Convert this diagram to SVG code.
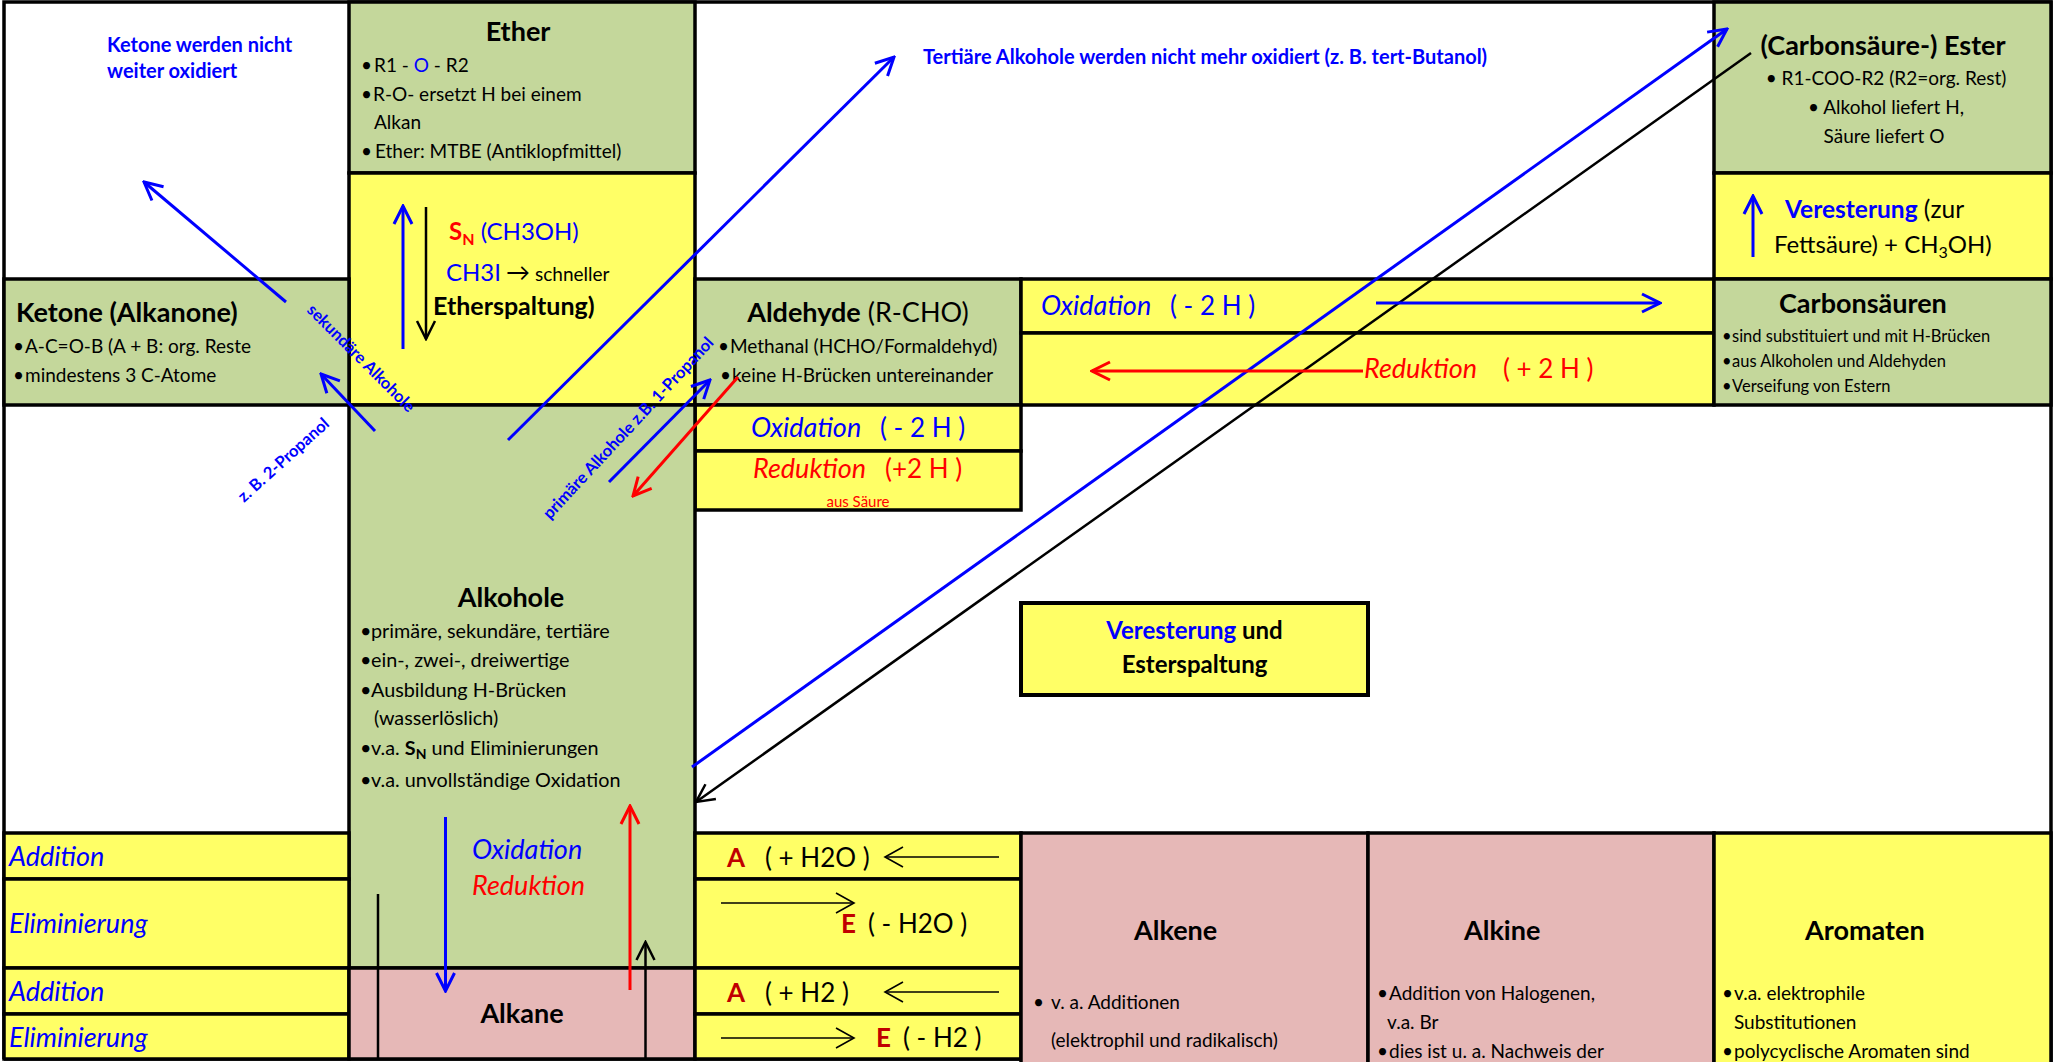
<svg xmlns="http://www.w3.org/2000/svg" width="2053" height="1062" viewBox="0 0 2053 1062">
<style>
text{font-family:Lato,'Liberation Sans',sans-serif;fill:#000}
.g{fill:#C4D79B;stroke:#000;stroke-width:3.5}
.y{fill:#FFFF66;stroke:#000;stroke-width:3.5}
.p{fill:#E6B8B7;stroke:#000;stroke-width:3.5}
.ti{font-size:27px;font-weight:bold}
.bu{font-size:19px}
.bu2{font-size:19.8px}
.sm{font-size:16.5px}
.it{font-size:27px;font-style:italic}
.up{font-size:26px}
.note{font-size:20px;font-weight:bold;fill:#0000FF}
.rot{font-size:16.5px;font-weight:bold;fill:#0000FF}
.blue{fill:#0000FF}
.red{fill:#FF0000}
.dred{fill:#C00000;font-weight:bold}
.ab{stroke:#0000FF;stroke-width:3;fill:none}
.ar{stroke:#FF0000;stroke-width:3;fill:none}
.ak{stroke:#000;stroke-width:2.5;fill:none}
.akt{stroke:#000;stroke-width:1.6;fill:none}
</style>
<defs>
<marker id="mb" markerUnits="userSpaceOnUse" viewBox="0 0 22 22" refX="20" refY="11" markerWidth="22" markerHeight="22" orient="auto"><path d="M2,2 L20,11 L2,20" fill="none" stroke="#0000FF" stroke-width="3"/></marker>
<marker id="mr" markerUnits="userSpaceOnUse" viewBox="0 0 22 22" refX="20" refY="11" markerWidth="22" markerHeight="22" orient="auto"><path d="M2,2 L20,11 L2,20" fill="none" stroke="#FF0000" stroke-width="3"/></marker>
<marker id="mk" markerUnits="userSpaceOnUse" viewBox="0 0 22 22" refX="20" refY="11" markerWidth="22" markerHeight="22" orient="auto"><path d="M2,2 L20,11 L2,20" fill="none" stroke="#000" stroke-width="2.5"/></marker>
<marker id="mkt" markerUnits="userSpaceOnUse" viewBox="0 0 22 22" refX="20" refY="11" markerWidth="22" markerHeight="22" orient="auto"><path d="M2,1 L20,11 L2,21" fill="none" stroke="#000" stroke-width="1.6"/></marker>
</defs>
<rect x="0" y="0" width="2053" height="1062" fill="#fff"/>

<g id="frame" fill="none" stroke="#000" stroke-width="3.5">
<path d="M4,1059 V2 H2051 V1062"/>
<line x1="4" y1="1059" x2="1021" y2="1059"/>
</g>

<g id="note-ketone">
<text class="note" x="107" y="52">Ketone werden nicht</text>
<text class="note" x="107" y="78">weiter oxidiert</text>
</g>
<g id="note-tertiaer">
<text class="note" x="923" y="64">Tertiäre Alkohole werden nicht mehr oxidiert (z. B. tert-Butanol)</text>
</g>

<g id="ether">
<rect class="g" x="349" y="2" width="346" height="171"/>
<text class="ti" x="518" y="41" text-anchor="middle">Ether</text>
<text class="bu" x="361" y="72">•</text><text class="bu" x="374" y="72">R1 - <tspan class="blue">O</tspan> - R2</text>
<text class="bu" x="361" y="101">•</text><text class="bu" x="373" y="101">R-O- ersetzt H bei einem</text>
<text class="bu" x="374" y="129">Alkan</text>
<text class="bu" x="361" y="158">•</text><text class="bu" x="375" y="158">Ether: MTBE (Antiklopfmittel)</text>
</g>
<g id="etherspaltung">
<rect class="y" x="349" y="173" width="346" height="232"/>
<text x="449" y="240" font-size="24px"><tspan class="red" font-weight="bold">S</tspan><tspan class="red" font-weight="bold" font-size="16px" dy="5">N</tspan><tspan class="blue" dy="-5"> (CH3OH)</tspan></text>
<text x="446" y="281" font-size="24px" class="blue">CH3I</text>
<text x="506" y="281" font-family="'DejaVu Sans',sans-serif" font-size="24px">→</text>
<text x="535" y="281" font-size="19px">schneller</text>
<text x="433" y="315" font-size="25px" font-weight="bold">Etherspaltung)</text>
</g>

<g id="ketone">
<rect class="g" x="4" y="279" width="345" height="126"/>
<text class="ti" x="16" y="322" font-size="28px">Ketone (Alkanone)</text>
<text class="bu" x="13" y="353">•</text><text class="bu" x="25" y="353">A-C=O-B (A + B: org. Reste</text>
<text class="bu" x="13" y="382">•</text><text class="bu" x="25" y="382">mindestens 3 C-Atome</text>
</g>

<g id="aldehyde">
<rect class="g" x="695" y="279" width="326" height="126"/>
<text class="ti" x="858" y="322" text-anchor="middle" font-size="26px">Aldehyde<tspan font-weight="normal"> (R-CHO)</tspan></text>
<text class="bu" x="718" y="353">•</text><text class="bu" x="730" y="353">Methanal (HCHO/Formaldehyd)</text>
<text class="bu" x="720" y="382">•</text><text class="bu" x="732" y="382">keine H-Brücken untereinander</text>
</g>

<g id="oxidation-row">
<rect class="y" x="1021" y="279" width="693" height="54"/>
<text class="it blue" x="1041" y="315">Oxidation</text><text class="up blue" x="1170" y="315">( - 2 H )</text>
</g>
<g id="reduktion-row">
<rect class="y" x="1021" y="333" width="693" height="72"/>
<text class="it red" x="1364" y="378">Reduktion</text><text class="up red" x="1503" y="378">( + 2 H )</text>
</g>

<g id="ester">
<rect class="g" x="1714" y="2" width="337" height="171"/>
<text class="ti" x="1883" y="55" text-anchor="middle" font-size="28px">(Carbonsäure-) Ester</text>
<text class="bu" x="1886" y="85" text-anchor="middle">• R1-COO-R2 (R2=org. Rest)</text>
<text class="bu" x="1886" y="114" text-anchor="middle">• Alkohol liefert H,</text>
<text class="bu" x="1884" y="143" text-anchor="middle">Säure liefert O</text>
</g>
<g id="veresterung">
<rect class="y" x="1714" y="173" width="337" height="106"/>
<text x="1785" y="218" font-size="24.5px"><tspan class="blue" font-weight="bold">Veresterung</tspan> (zur</text>
<text x="1774" y="253" font-size="24px">Fettsäure) + CH<tspan font-size="16px" dy="5">3</tspan><tspan dy="-5">OH)</tspan></text>
</g>
<g id="carbonsaeuren">
<rect class="g" x="1714" y="279" width="337" height="126"/>
<text class="ti" x="1779" y="313">Carbonsäuren</text>
<text class="sm" x="1722" y="342">•</text><text class="sm" x="1732" y="342">sind substituiert und mit H-Brücken</text>
<text class="sm" x="1722" y="367">•</text><text class="sm" x="1732" y="367">aus Alkoholen und Aldehyden</text>
<text class="sm" x="1722" y="392">•</text><text class="sm" x="1732" y="392">Verseifung von Estern</text>
</g>

<g id="ald-oxidation">
<rect class="y" x="695" y="405" width="326" height="46"/>
<text class="it blue" x="751" y="437">Oxidation</text><text class="up blue" x="880" y="437">( - 2 H )</text>
</g>
<g id="ald-reduktion">
<rect class="y" x="695" y="451" width="326" height="59"/>
<text class="it red" x="753" y="478">Reduktion</text><text class="up red" x="885" y="478">(+2 H )</text>
<text class="red" x="858" y="507" font-size="15px" text-anchor="middle">aus Säure</text>
</g>

<g id="alkohole">
<rect class="g" x="349" y="405" width="346" height="563"/>
<text class="ti" x="511" y="607" text-anchor="middle">Alkohole</text>
<text class="bu2" x="360" y="638">•</text><text class="bu2" x="371" y="638">primäre, sekundäre, tertiäre</text>
<text class="bu2" x="360" y="667">•</text><text class="bu2" x="371" y="667">ein-, zwei-, dreiwertige</text>
<text class="bu2" x="360" y="697">•</text><text class="bu2" x="371" y="697">Ausbildung H-Brücken</text>
<text class="bu2" x="374" y="725">(wasserlöslich)</text>
<text class="bu2" x="360" y="755">•</text><text class="bu2" x="371" y="755">v.a. <tspan font-weight="bold">S</tspan><tspan font-weight="bold" font-size="14px" dy="4">N</tspan><tspan dy="-4"> und Eliminierungen</tspan></text>
<text class="bu2" x="360" y="787">•</text><text class="bu2" x="371" y="787">v.a. unvollständige Oxidation</text>
<text class="it blue" x="472" y="859">Oxidation</text>
<text class="it red" x="472" y="895">Reduktion</text>
</g>

<g id="verest-box">
<rect x="1021" y="603" width="347" height="92" fill="#FFFF66" stroke="#000" stroke-width="4"/>
<text x="1194.5" y="639" font-size="24px" font-weight="bold" text-anchor="middle"><tspan class="blue">Veresterung</tspan> und</text>
<text x="1194.5" y="673" font-size="24px" font-weight="bold" text-anchor="middle">Esterspaltung</text>
</g>

<g id="left-add1"><rect class="y" x="4" y="833" width="345" height="46"/><text class="it blue" x="9" y="866" font-size="28px">Addition</text></g>
<g id="left-elim1"><rect class="y" x="4" y="879" width="345" height="89"/><text class="it blue" x="9" y="933" font-size="28px">Eliminierung</text></g>
<g id="left-add2"><rect class="y" x="4" y="968" width="345" height="46"/><text class="it blue" x="9" y="1001" font-size="28px">Addition</text></g>
<g id="left-elim2"><rect class="y" x="4" y="1014" width="345" height="45"/><text class="it blue" x="9" y="1047" font-size="28px">Eliminierung</text></g>

<g id="alkane">
<rect class="p" x="349" y="968" width="346" height="91"/>
<text class="ti" x="522" y="1023" text-anchor="middle" font-size="26px">Alkane</text>
</g>

<g id="mid-a-h2o"><rect class="y" x="695" y="833" width="326" height="46"/><text class="up dred" x="727" y="867">A</text><text class="up" x="765" y="867">( + H2O )</text></g>
<g id="mid-e-h2o"><rect class="y" x="695" y="879" width="326" height="89"/><text class="up dred" x="841" y="933">E</text><text class="up" x="868" y="933">( - H2O )</text></g>
<g id="mid-a-h2"><rect class="y" x="695" y="968" width="326" height="46"/><text class="up dred" x="727" y="1002">A</text><text class="up" x="765" y="1002">( + H2 )</text></g>
<g id="mid-e-h2"><rect class="y" x="695" y="1014" width="326" height="45"/><text class="up dred" x="876" y="1047">E</text><text class="up" x="903" y="1047">( - H2 )</text></g>

<g id="alkene">
<rect class="p" x="1021" y="833" width="347" height="240"/>
<text class="ti" x="1134" y="940">Alkene</text>
<text class="bu" x="1033" y="1009">•</text><text class="bu" x="1051" y="1009">v. a. Additionen</text>
<text class="bu" x="1051" y="1047">(elektrophil und radikalisch)</text>
</g>
<g id="alkine">
<rect class="p" x="1368" y="833" width="346" height="240"/>
<text class="ti" x="1464" y="940">Alkine</text>
<text class="bu" x="1377" y="1000">•</text><text class="bu" x="1389" y="1000">Addition von Halogenen,</text>
<text class="bu" x="1387" y="1029">v.a. Br</text>
<text class="bu" x="1377" y="1058">•</text><text class="bu" x="1389" y="1058">dies ist u. a. Nachweis der</text>
</g>
<g id="aromaten">
<rect class="y" x="1714" y="833" width="337" height="240"/>
<text class="ti" x="1805" y="940">Aromaten</text>
<text class="bu" x="1722" y="1000">•</text><text class="bu" x="1734" y="1000">v.a. elektrophile</text>
<text class="bu" x="1734" y="1029">Substitutionen</text>
<text class="bu" x="1722" y="1058">•</text><text class="bu" x="1734" y="1058">polycyclische Aromaten sind</text>
</g>

<g id="connectors">
<line class="ab" x1="286" y1="302" x2="144" y2="182" marker-end="url(#mb)"/>
<line class="ab" x1="375" y1="431" x2="321" y2="374" marker-end="url(#mb)"/>
<line class="ab" x1="508" y1="440" x2="894" y2="57" marker-end="url(#mb)"/>
<line class="ab" x1="609" y1="482" x2="710" y2="380" marker-end="url(#mb)"/>
<line class="ar" x1="738" y1="377" x2="633" y2="496" marker-end="url(#mr)"/>
<line class="ab" x1="692" y1="767" x2="1727" y2="29" marker-end="url(#mb)"/>
<line class="ak" x1="1751" y1="53" x2="696" y2="802" marker-end="url(#mk)"/>
<line class="ab" x1="1376" y1="303" x2="1660" y2="303" marker-end="url(#mb)"/>
<line class="ar" x1="1363" y1="371" x2="1092" y2="371" marker-end="url(#mr)"/>
<line class="ab" x1="1753" y1="257" x2="1753" y2="196" marker-end="url(#mb)"/>
<line class="ab" x1="403" y1="349" x2="403" y2="206" marker-end="url(#mb)"/>
<line class="ak" x1="426" y1="207" x2="426" y2="339" stroke-width="3" marker-end="url(#mk)"/>
<line class="ab" x1="445.5" y1="817" x2="445.5" y2="991" marker-end="url(#mb)"/>
<line class="ar" x1="630" y1="990" x2="630" y2="806" marker-end="url(#mr)"/>
<line class="ak" x1="378" y1="894" x2="378" y2="1059"/>
<line class="ak" x1="645.5" y1="1059" x2="645.5" y2="942" marker-end="url(#mk)"/>
<line class="akt" x1="999" y1="857" x2="885" y2="857" marker-end="url(#mkt)"/>
<line class="akt" x1="721" y1="903" x2="854" y2="903" marker-end="url(#mkt)"/>
<line class="akt" x1="999" y1="992" x2="885" y2="992" marker-end="url(#mkt)"/>
<line class="akt" x1="721" y1="1038" x2="854" y2="1038" marker-end="url(#mkt)"/>
</g>

<g id="labels">
<text class="rot" transform="translate(306,311) rotate(45)">sekundäre Alkohole</text>
<text class="rot" transform="translate(244,503) rotate(-42)">z. B. 2-Propanol</text>
<text class="rot" transform="translate(550,520) rotate(-47)">primäre Alkohole z.B. 1-Propanol</text>
</g>
</svg>
